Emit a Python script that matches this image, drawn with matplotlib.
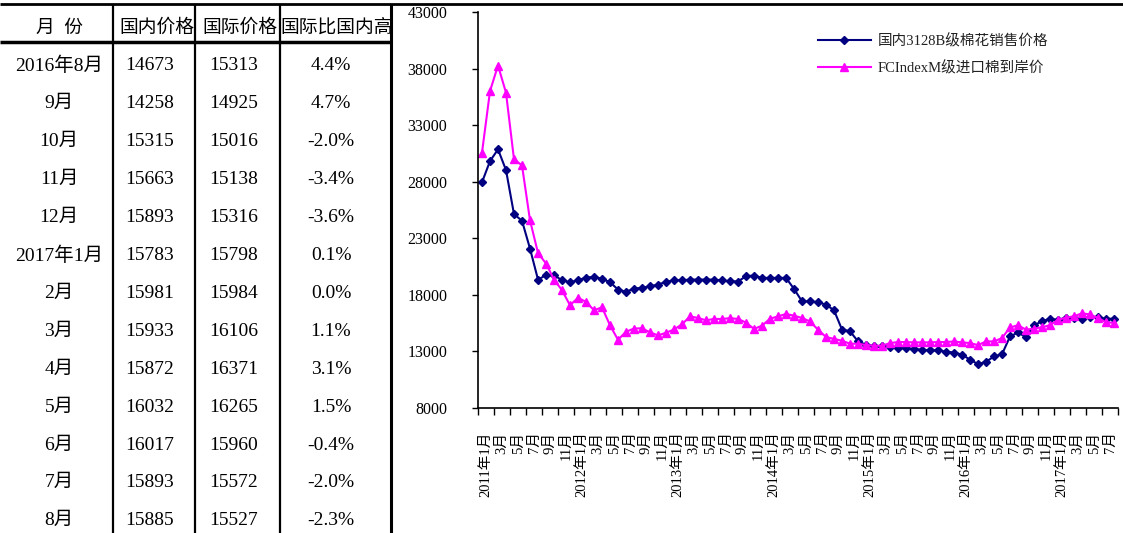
import matplotlib
matplotlib.use("Agg")
import matplotlib.pyplot as plt
from matplotlib.transforms import ScaledTranslation
import numpy as np

plt.rcParams['font.family'] = ['Liberation Serif', 'Noto Sans CJK SC']

# monthly cotton prices (yuan/ton), 2011-01 .. 2017-08
start_year = 2011
domestic = [27950, 29820, 30860, 29030, 25130, 24550, 22090, 19350, 19740, 19740, 19290, 19120,
            19290, 19530, 19590, 19420, 19120, 18470, 18270, 18560, 18620, 18760, 18910, 19150,
            19290, 19290, 19350, 19350, 19350, 19350, 19270, 19210, 19180, 19650, 19710, 19500,
            19500, 19500, 19500, 18530, 17430, 17430, 17350, 17140, 16640, 14930, 14780, 13890,
            13590, 13440, 13440, 13390, 13330, 13270, 13210, 13150, 13090, 13090, 12980, 12900,
            12720, 12270, 11880, 12080, 12560, 12750, 14320,
            14673, 14258, 15315, 15663, 15893, 15783, 15981, 15933, 15872, 16032, 16017, 15893, 15885]
imported = [30570, 36010, 38270, 35870, 29980, 29440, 24590, 21700, 20770, 19350, 18410, 17080,
            17740, 17380, 16640, 16900, 15310, 14030, 14740, 15020, 15050, 14680, 14420, 14650,
            14940, 15400, 16100, 15960, 15750, 15870, 15870, 15940, 15870, 15550, 14990, 15275,
            15890, 16100, 16310, 16160, 15955, 15655, 14920, 14275, 14100, 13950, 13680, 13680,
            13565, 13505, 13505, 13740, 13830, 13830, 13800, 13800, 13800, 13830, 13830, 13880,
            13800, 13740, 13560, 13885, 13885, 14185, 15120,
            15313, 14925, 15016, 15138, 15316, 15798, 15984, 16106, 16371, 16265, 15960, 15572, 15527]

series_names = ['国内3128B级棉花销售价格', 'FCIndexM级进口棉到岸价']
table_header = ['月  份', '国内价格', '国际价格', '国际比国内高']
table_months = ['2016年8月', '9月', '10月', '11月', '12月', '2017年1月', '2月',
                '3月', '4月', '5月', '6月', '7月', '8月']

W, H = 1123, 533
fig = plt.figure(figsize=(W / 100, H / 100), dpi=100)

# table on the left, laid out in pixel units
tab = fig.add_axes([0, 0, 1, 1])
tab.set_xlim(0, W)
tab.set_ylim(H, 0)
tab.axis('off')
tab.plot([0, W], [4, 4], color='black', lw=2, solid_capstyle='butt')
tab.plot([0, 391], [42, 42], color='black', lw=2.5, solid_capstyle='butt')
for xv, lw in [(113, 1.6), (195, 1.6), (280, 1.6), (391, 2.2)]:
    tab.plot([xv, xv], [4, H], color='black', lw=lw, solid_capstyle='butt')

for xc, txt in zip([59, 157, 240, 337], table_header):
    tab.text(xc, 28, txt, ha='center', va='center', fontsize=13.5)

n_rows = len(table_months)
dom_tail = domestic[-n_rows:]
imp_tail = imported[-n_rows:]
for k in range(n_rows):
    yc = 66 + 37.9 * k
    ratio = (imp_tail[k] - dom_tail[k]) / dom_tail[k] * 100
    cells = [table_months[k], str(dom_tail[k]), str(imp_tail[k]), f"{ratio:.1f}%"]
    for xc, txt in zip([59, 150, 234, 331], cells):
        tab.text(xc, yc, txt, ha='center', va='center', fontsize=14)

# price chart
ax = fig.add_axes([478 / W, (H - 408) / H, 640 / W, 396 / H])
n = len(domestic)
x = np.arange(n)
ax.plot(x, domestic, color='#000080', lw=1.5, marker='D', ms=4.5, label=series_names[0])
ax.plot(x, imported, color='#FF00FF', lw=1.5, marker='^', ms=6, label=series_names[1])

ax.set_xlim(-0.5, n - 0.5)
ax.set_ylim(8000, 43000)
ax.set_yticks(range(8000, 43001, 5000))
for s in ['top', 'right']:
    ax.spines[s].set_visible(False)
ax.spines['left'].set_linewidth(1.2)
ax.spines['bottom'].set_linewidth(1.2)

ax.set_xticks(np.arange(-0.5, n + 0.5, 2))
labels = []
for i in range(0, n, 2):
    yr, mo = start_year + i // 12, i % 12 + 1
    labels.append(f"{yr}年{mo}月" if mo == 1 else f"{mo}月")
ax.set_xticks(np.arange(0, n, 2), labels, minor=True, rotation=90, fontsize=10.5)
ax.tick_params(axis='x', which='major', length=5, width=1, labelbottom=False)
ax.tick_params(axis='x', which='minor', length=0, pad=17)
ax.tick_params(axis='y', length=4, width=1, pad=18, labelsize=11.5)
shift = ScaledTranslation(4 / 100, 0, fig.dpi_scale_trans)
for lbl in ax.get_xticklabels(minor=True):
    lbl.set_transform(lbl.get_transform() + shift)

leg = ax.legend(loc='upper left', bbox_to_anchor=(818 / W, 1 - 34 / H),
                bbox_transform=fig.transFigure, frameon=False, handlelength=3.6,
                handletextpad=0.5, labelspacing=0.85, borderpad=0, borderaxespad=0,
                prop={'size': 10.5})
for t in leg.get_texts():
    t.set_color('#222222')

fig.savefig('out.png', dpi=100)
